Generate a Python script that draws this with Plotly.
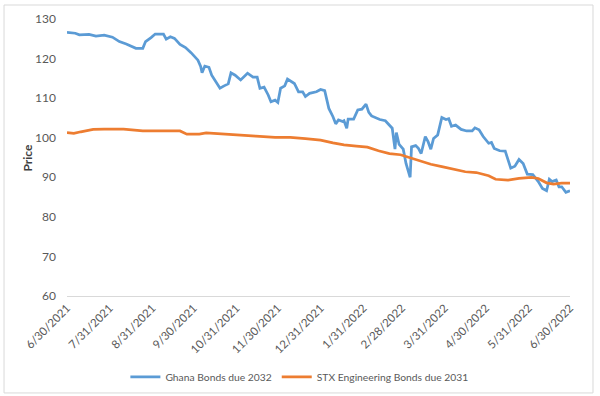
import plotly.graph_objects as go

ghana_dates = [
    "2021-06-30", "2021-07-06", "2021-07-09", "2021-07-16", "2021-07-21", "2021-07-27",
    "2021-08-02", "2021-08-07", "2021-08-12", "2021-08-19", "2021-08-24", "2021-08-26",
    "2021-08-30", "2021-09-02", "2021-09-08", "2021-09-10", "2021-09-13", "2021-09-16",
    "2021-09-20", "2021-09-24", "2021-09-28", "2021-10-03", "2021-10-05", "2021-10-06",
    "2021-10-08", "2021-10-11", "2021-10-13", "2021-10-16", "2021-10-19", "2021-10-22",
    "2021-10-25", "2021-10-27", "2021-10-30", "2021-11-03", "2021-11-06", "2021-11-08",
    "2021-11-12", "2021-11-15", "2021-11-17", "2021-11-20", "2021-11-23", "2021-11-25",
    "2021-11-28", "2021-11-30", "2021-12-02", "2021-12-05", "2021-12-07", "2021-12-09",
    "2021-12-12", "2021-12-15", "2021-12-18", "2021-12-20", "2021-12-23", "2021-12-28",
    "2021-12-31", "2022-01-03", "2022-01-06", "2022-01-09", "2022-01-11", "2022-01-13",
    "2022-01-16", "2022-01-17", "2022-01-19", "2022-01-20", "2022-01-24", "2022-01-27",
    "2022-01-30", "2022-02-02", "2022-02-04", "2022-02-06", "2022-02-09", "2022-02-12",
    "2022-02-16", "2022-02-19", "2022-02-21", "2022-02-23", "2022-02-24", "2022-02-26",
    "2022-03-01", "2022-03-03", "2022-03-06", "2022-03-07", "2022-03-10", "2022-03-12",
    "2022-03-14", "2022-03-17", "2022-03-19", "2022-03-21", "2022-03-23", "2022-03-26",
    "2022-03-29", "2022-04-01", "2022-04-03", "2022-04-05", "2022-04-08", "2022-04-12",
    "2022-04-16", "2022-04-20", "2022-04-22", "2022-04-25", "2022-04-28", "2022-05-02",
    "2022-05-04", "2022-05-06", "2022-05-10", "2022-05-14", "2022-05-18", "2022-05-21",
    "2022-05-24", "2022-05-27", "2022-05-30", "2022-06-03", "2022-06-07", "2022-06-10",
    "2022-06-13", "2022-06-15", "2022-06-17", "2022-06-20", "2022-06-22", "2022-06-24",
    "2022-06-27", "2022-06-30",
]
ghana_price = [
    126.6, 126.4, 126.0, 126.1, 125.7, 125.9,
    125.4, 124.3, 123.7, 122.6, 122.6, 124.3,
    125.3, 126.2, 126.2, 124.9, 125.5, 125.1,
    123.6, 122.8, 121.5, 119.6, 118.0, 116.4,
    118.1, 117.8, 115.8, 114.2, 112.5, 113.1,
    113.6, 116.4, 115.8, 114.6, 115.6, 116.3,
    115.3, 115.3, 112.5, 112.8, 110.8, 109.1,
    109.5, 108.9, 112.5, 113.1, 114.8, 114.4,
    113.7, 111.6, 111.6, 110.4, 111.2, 111.6,
    112.2, 111.9, 107.4, 105.3, 103.5, 104.5,
    104.1, 104.3, 102.4, 104.7, 104.7, 107.0,
    107.2, 108.5, 106.4, 105.5, 105.1, 104.6,
    104.3, 103.2, 102.4, 97.1, 101.3, 98.3,
    97.1, 93.5, 90.0, 97.7, 98.0, 97.3,
    96.0, 100.3, 99.0, 97.1, 99.8, 100.7,
    105.1, 104.6, 104.8, 102.9, 103.2, 102.1,
    101.7, 101.7, 102.5, 102.0, 100.3, 98.6,
    98.8, 97.3, 96.7, 96.6, 92.3, 92.8,
    94.5, 93.5, 90.8, 90.7, 88.9, 87.2,
    86.6, 89.5, 88.9, 89.3, 87.6, 87.6,
    86.2, 86.6,
]

stx_dates = [
    "2021-06-30", "2021-07-05", "2021-07-10", "2021-07-19", "2021-07-27", "2021-08-10",
    "2021-08-24", "2021-09-06", "2021-09-20", "2021-09-25", "2021-10-04", "2021-10-09",
    "2021-10-20", "2021-11-03", "2021-11-14", "2021-11-28", "2021-12-09", "2021-12-20",
    "2021-12-31", "2022-01-09", "2022-01-17", "2022-01-26", "2022-02-03", "2022-02-11",
    "2022-02-19", "2022-02-27", "2022-03-07", "2022-03-13", "2022-03-21", "2022-03-29",
    "2022-04-06", "2022-04-15", "2022-04-23", "2022-05-02", "2022-05-07", "2022-05-16",
    "2022-05-24", "2022-06-02", "2022-06-07", "2022-06-13", "2022-06-18", "2022-06-24",
    "2022-06-30",
]
stx_price = [
    101.3, 101.1, 101.5, 102.1, 102.2, 102.2,
    101.7, 101.7, 101.7, 100.9, 100.9, 101.2,
    101.0, 100.7, 100.4, 100.1, 100.1, 99.8,
    99.4, 98.7, 98.2, 97.9, 97.6, 96.7,
    96.0, 95.7, 94.8, 94.2, 93.3, 92.7,
    92.1, 91.4, 91.2, 90.4, 89.5, 89.3,
    89.7, 90.0, 89.7, 88.6, 88.3, 88.5,
    88.5,
]

tick_dates = [
    "2021-06-30", "2021-07-31", "2021-08-31", "2021-09-30", "2021-10-31", "2021-11-30",
    "2021-12-31", "2022-01-31", "2022-02-28", "2022-03-31", "2022-04-30", "2022-05-31",
    "2022-06-30",
]
tick_labels = [
    "6/30/2021", "7/31/2021", "8/31/2021", "9/30/2021", "10/31/2021", "11/30/2021",
    "12/31/2021", "1/31/2022", "2/28/2022", "3/31/2022", "4/30/2022", "5/31/2022",
    "6/30/2022",
]

FONT = "Lato, 'Open Sans', sans-serif"

fig = go.Figure()
fig.add_trace(go.Scatter(
    x=ghana_dates, y=ghana_price, mode="lines", name="Ghana Bonds due 2032",
    line=dict(color="#5B9BD5", width=2.75),
))
fig.add_trace(go.Scatter(
    x=stx_dates, y=stx_price, mode="lines", name="STX Engineering Bonds due 2031",
    line=dict(color="#ED7D31", width=2.75),
))

fig.update_layout(
    width=600, height=396,
    margin=dict(l=67, r=30, t=19, b=100, autoexpand=False),
    paper_bgcolor="white", plot_bgcolor="white",
    font=dict(family=FONT, size=11, color="#595959"),
    showlegend=True,
    legend=dict(
        orientation="h", x=0.462, y=-0.24, xanchor="center", yanchor="top",
        font=dict(size=10.3, color="#595959"), itemwidth=30,
    ),
    xaxis=dict(
        type="date", range=["2021-06-30", "2022-06-30"], automargin=False,
        tickmode="array", tickvals=tick_dates, ticktext=tick_labels,
        tickangle=-45, showgrid=False, zeroline=False,
        showline=True, linecolor="#D9D9D9", linewidth=1, ticks="",
        tickfont=dict(size=11.5, color="#595959"),
    ),
    yaxis=dict(
        range=[60, 130], tick0=60, dtick=10, showgrid=False, zeroline=False,
        showline=False, ticks="", ticklabelstandoff=10, automargin=False,
        tickfont=dict(size=12, color="#595959"),
    ),
    annotations=[dict(
        text="<b>Price</b>", xref="paper", yref="paper", x=-0.0795, y=0.50,
        xanchor="center", yanchor="middle", textangle=-90, showarrow=False,
        font=dict(size=12, color="#404040"),
    )],
    shapes=[dict(
        type="rect", xref="paper", yref="paper",
        x0=-0.1252, x1=1.0457, y0=-0.350, y1=1.0505,
        line=dict(color="#D9D9D9", width=1), fillcolor="rgba(0,0,0,0)", layer="below",
    )],
)

fig.write_html(
    "out.html",
    config={"displayModeBar": False},
    post_script="document.body.style.margin='0';document.body.style.padding='0';",
)
